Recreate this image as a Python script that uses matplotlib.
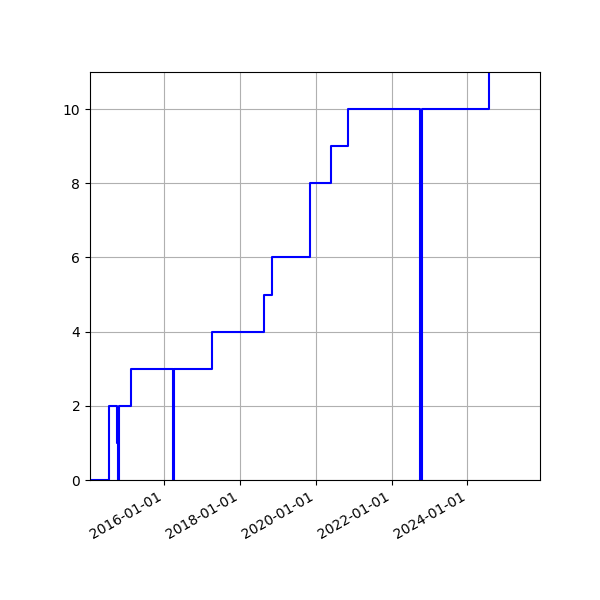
import numpy as np
import pandas as pd
import matplotlib
matplotlib.use("Agg")
import matplotlib.pyplot as plt
import matplotlib.dates as mdates

# dates where the count changes (steps-post)
dates = ["2014-01-19", "2014-07-25", "2014-10-03", "2014-10-12", "2014-10-24",
         "2015-02-14", "2016-03-26", "2016-04-04", "2017-04-04", "2018-08-21",
         "2018-11-10", "2019-11-11", "2020-05-24", "2020-11-11", "2022-10-06",
         "2022-10-16", "2024-07-27", "2025-11-30"]
values = [0, 2, 1, 0, 2,
          3, 0, 3, 4, 5,
          6, 8, 9, 10, 0,
          10, 12, 12]

x = pd.to_datetime(dates)

fig = plt.figure(figsize=(6, 6), dpi=100)
ax = fig.add_axes([0.15, 0.2, 0.75, 0.68])
ax.plot(x, values, color="blue", lw=1.5, drawstyle="steps-post")

ax.set_xlim(pd.Timestamp("2014-01-19"), pd.Timestamp("2025-11-30"))
ax.set_ylim(0, 11)
ax.xaxis.set_major_locator(mdates.YearLocator(2))
ax.xaxis.set_major_formatter(mdates.DateFormatter("%Y-%m-%d"))
ax.grid(True)
for lbl in ax.get_xticklabels():
    lbl.set_rotation(30)
    lbl.set_ha("right")

fig.savefig("out.png")
